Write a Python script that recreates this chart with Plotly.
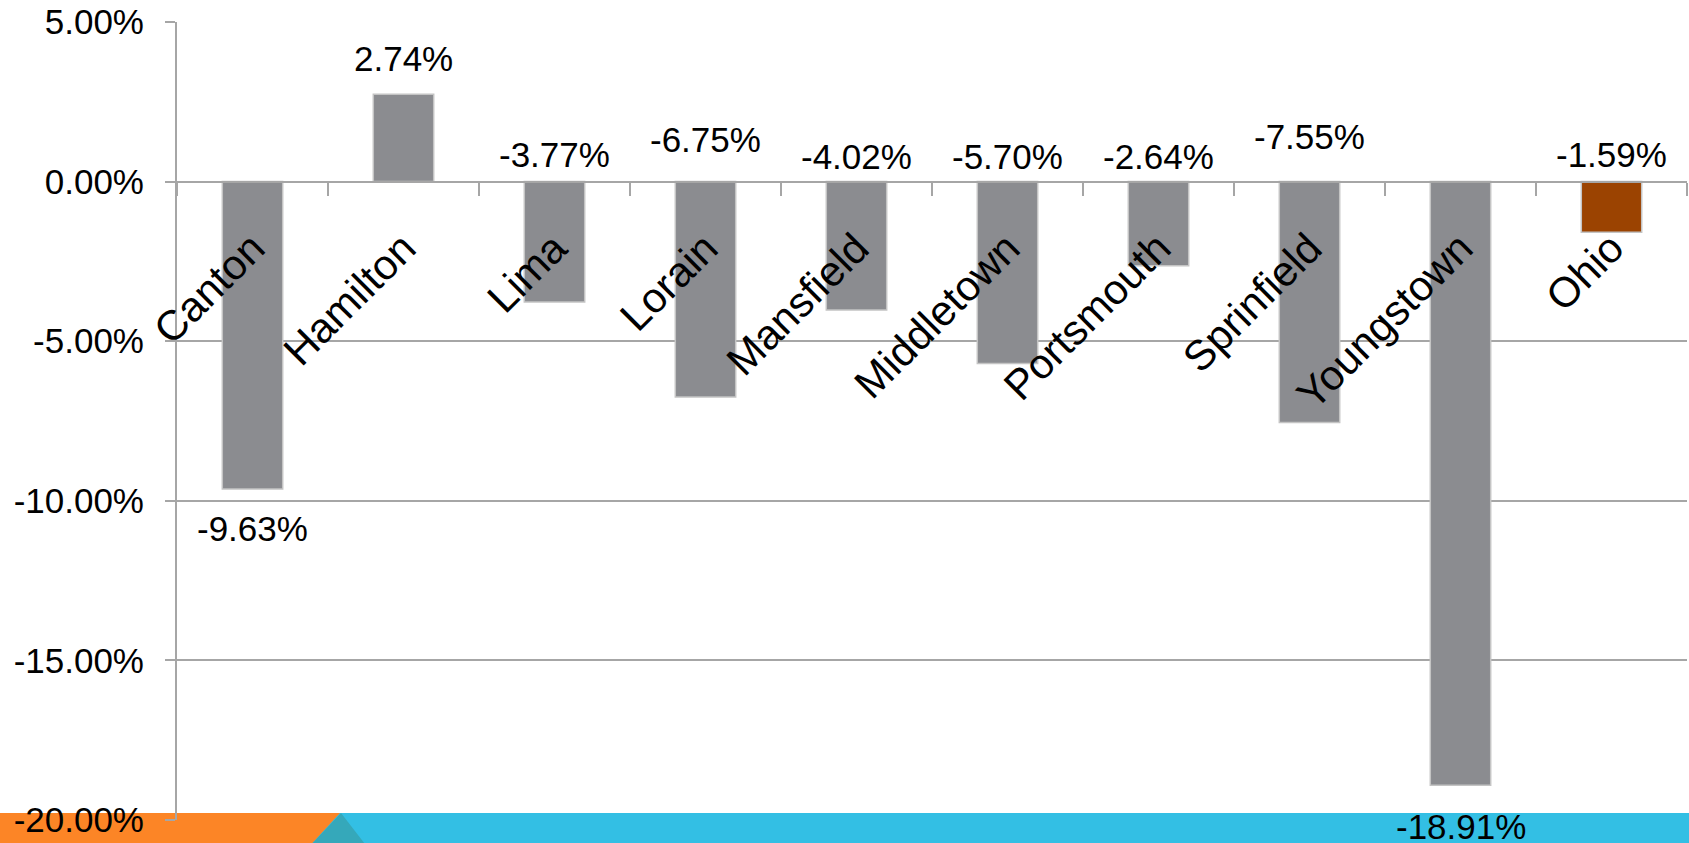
import plotly.graph_objects as go

# ---- data ----
cities = ["Canton", "Hamilton", "Lima", "Lorain", "Mansfield", "Middletown",
          "Portsmouth", "Sprinfield", "Youngstown", "Ohio"]
change_pct = [-9.63, 2.74, -3.77, -6.75, -4.02, -5.70, -2.64, -7.55, -18.91, -1.59]
y_tick_vals = [5, 0, -5, -10, -15, -20]
y_tick_text = ["5.00%", "0.00%", "-5.00%", "-10.00%", "-15.00%", "-20.00%"]

# ---- styling (not data) ----
bar_colors = ["#8B8C90"] * 9 + ["#9B4301"]
label_at_bar_end = [True, True, False, False, False, False, False, False, True, False]
label_shift = [-40, 36, 27, 42, 25, 25, 25, 45, -41, 27]

FONT = "Liberation Sans, Arial, sans-serif"
GRID = "#A6A6A6"

W, H = 1689, 843
ML, MR, MT, MB = 177, 2, 20, 23
PW, PH = W - ML - MR, H - MT - MB


def px_x(p):
    return (p - ML) / PW


def px_y(p):
    return (H - MB - p) / PH


fig = go.Figure()
fig.add_trace(go.Bar(
    x=cities, y=change_pct,
    marker=dict(color=bar_colors, line=dict(color="#C4C4C4", width=1.5)),
    width=0.4, hoverinfo="x+y",
))

annotations = []
for c, v, at_end, s in zip(cities, change_pct, label_at_bar_end, label_shift):
    annotations.append(dict(
        x=c, y=v if at_end else 0, xref="x", yref="y",
        text=f"{v:.2f}%", showarrow=False, yshift=s,
        xanchor="center", yanchor="middle",
        font=dict(family=FONT, size=35, color="#000000"),
    ))

shapes = [
    # decorative footer strip
    dict(type="rect", xref="paper", yref="paper", layer="below",
         x0=px_x(300), x1=px_x(W + 5), y0=px_y(H + 5), y1=px_y(813),
         fillcolor="#33BFE4", line=dict(width=0)),
    dict(type="path", xref="paper", yref="paper", layer="below",
         path=f"M {px_x(-5)} {px_y(813)} L {px_x(340)} {px_y(813)} L {px_x(308)} {px_y(H + 5)} L {px_x(-5)} {px_y(H + 5)} Z",
         fillcolor="#FC8526", line=dict(width=0)),
    dict(type="path", xref="paper", yref="paper", layer="below",
         path=f"M {px_x(308)} {px_y(H + 5)} L {px_x(341)} {px_y(813)} L {px_x(368)} {px_y(H + 5)} Z",
         fillcolor="#35A8BA", line=dict(width=0)),
]

fig.update_layout(
    width=W, height=H,
    margin=dict(l=ML, r=MR, t=MT, b=MB, pad=0),
    paper_bgcolor="#FFFFFF", plot_bgcolor="rgba(0,0,0,0)",
    showlegend=False, bargap=0.6,
    font=dict(family=FONT, size=35, color="#000000"),
    annotations=annotations, shapes=shapes,
)
fig.update_yaxes(
    range=[-20, 5], tickvals=y_tick_vals, ticktext=y_tick_text,
    showgrid=True, gridcolor=GRID, gridwidth=2, zeroline=False,
    showline=True, linecolor=GRID, linewidth=2,
    ticks="outside", ticklen=10, tickwidth=2, tickcolor=GRID,
    ticklabelstandoff=14, tickfont=dict(family=FONT, size=35, color="#000000"),
)
fig.update_xaxes(
    type="category", anchor="free", position=px_y(180),
    showgrid=False, zeroline=False,
    showline=True, linecolor=GRID, linewidth=2,
    ticks="outside", tickson="boundaries", ticklen=13, tickwidth=2, tickcolor=GRID,
    tickangle=-45, ticklabelstandoff=24,
    tickfont=dict(family=FONT, size=42, color="#000000"),
)

fig.write_html(
    "out.html",
    config={"displayModeBar": False},
    post_script="document.body.style.margin='0';document.body.style.overflow='hidden';",
)
